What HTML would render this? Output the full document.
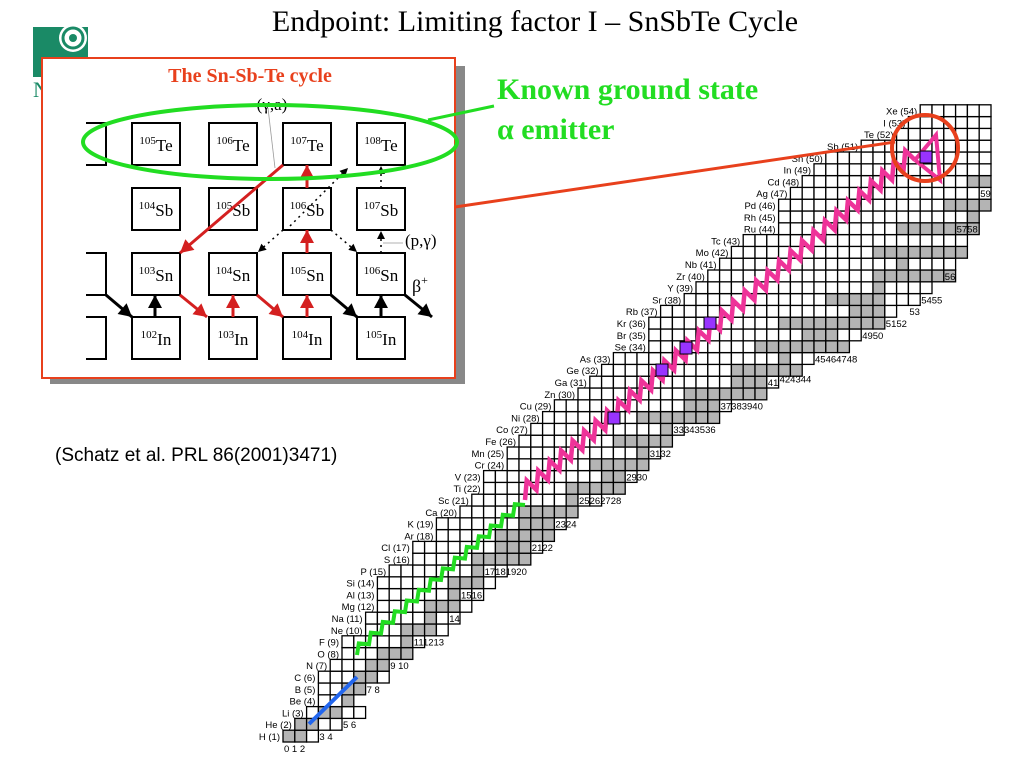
<!DOCTYPE html>
<html><head><meta charset="utf-8">
<style>
html,body{margin:0;padding:0;background:#fff;width:1024px;height:768px;overflow:hidden}
svg{display:block}
</style></head>
<body>
<svg id="s" width="1024" height="768" viewBox="0 0 1024 768" xmlns="http://www.w3.org/2000/svg">
  <g>
    <rect x="33" y="27" width="55" height="50" fill="#1a8a66"/>
    <circle cx="73" cy="38" r="14" fill="#fff"/>
    <circle cx="73" cy="38" r="10" fill="none" stroke="#1a8a66" stroke-width="3"/>
    <circle cx="73" cy="38" r="4" fill="#1a8a66"/>
    <text x="33" y="97" font-family="Liberation Serif, serif" font-size="22" fill="#1a8a66">N</text>
  </g>
  <text x="535" y="31" text-anchor="middle" font-family="Liberation Serif, serif" font-size="30" fill="#000">Endpoint: Limiting factor I – SnSbTe Cycle</text>
  <g id="chart"></g>
  <g>
    <rect x="50" y="66" width="415" height="318" fill="#888"/>
    <rect x="42" y="58" width="413" height="320" fill="#fff" stroke="#e8401c" stroke-width="2"/>
    <text x="250" y="82" text-anchor="middle" font-family="Liberation Serif, serif" font-weight="bold" font-size="20" fill="#e8401c">The Sn-Sb-Te cycle</text>
    <g id="inset" font-family="Liberation Serif, serif"></g>
  </g>
  <ellipse cx="270" cy="142" rx="187" ry="37" fill="none" stroke="#22dd22" stroke-width="4"/>
  <line x1="428" y1="120" x2="494" y2="106" stroke="#22dd22" stroke-width="3"/>
  <line x1="455" y1="207" x2="895" y2="142" stroke="#e8401c" stroke-width="3"/>
  <circle cx="925" cy="148" r="33" fill="none" stroke="#e8401c" stroke-width="4"/>
  <text x="497" y="99" font-family="Liberation Serif, serif" font-weight="bold" font-size="30" fill="#22dd22">Known ground state</text>
  <text x="497" y="139" font-family="Liberation Serif, serif" font-weight="bold" font-size="30" fill="#22dd22">α emitter</text>
  <text x="55" y="461" font-family="Liberation Sans, sans-serif" font-size="19" fill="#000">(Schatz et al. PRL 86(2001)3471)</text>
</svg>
<script>
const NS='http://www.w3.org/2000/svg';
const elements=['H','He','Li','Be','B','C','N','O','F','Ne','Na','Mg','Al','Si','P','S','Cl','Ar','K','Ca','Sc','Ti','V','Cr','Mn','Fe','Co','Ni','Cu','Zn','Ga','Ge','As','Se','Br','Kr','Rb','Sr','Y','Zr','Nb','Mo','Tc','Ru','Rh','Pd','Ag','Cd','In','Sn','Sb','Te','I','Xe'];
const nMin=[0,1,2,3,3,3,4,5,5,7,7,8,8,8,9,11,11,13,13,15,16,17,17,19,19,20,21,22,23,25,26,27,28,31,31,31,32,34,35,36,37,38,39,42,42,42,43,44,45,46,49,52,53,54];
const nMax=[2,4,6,5,6,8,8,10,11,13,14,15,16,17,18,20,21,22,23,24,26,28,29,30,31,32,33,36,37,40,41,43,44,47,48,50,51,53,54,56,56,57,57,58,58,59,59,59,59,59,59,59,59,59];
const stableLo=[0,1,3,5,5,6,7,8,10,10,12,12,14,14,16,16,18,18,20,20,24,24,27,26,30,28,32,30,34,34,38,38,42,40,44,42,48,46,50,50,52,50,99,52,58,56,60,58,64,62,70,68,74,70];
const stableHi=[1,2,4,5,6,7,8,10,10,12,12,14,14,16,16,20,20,22,22,28,24,28,28,30,30,32,32,36,36,40,40,44,42,48,46,50,50,50,50,56,52,58,0,60,58,64,62,66,66,74,72,78,74,82];
const X0=283,CW=11.8,YB=742;
const cx=n=>X0+n*CW, cy=z=>YB-z*CW;
const ch=document.getElementById('chart');
function mk(t,a,p){const e=document.createElementNS(NS,t);for(const k in a)e.setAttribute(k,a[k]);(p||ch).appendChild(e);return e;}
for(let i=0;i<elements.length;i++){
  const z=i+1;
  for(let n=nMin[i];n<=nMax[i];n++){
    const st=n>=stableLo[i]&&n<=stableHi[i];
    const r=mk('rect',{x:cx(n),y:cy(z),width:CW,height:CW,fill:st?'#b4b4b4':'#fff',stroke:'#000','stroke-width':1.3});
    
    
  }
  const t=mk('text',{x:cx(nMin[i])-3,y:cy(z)+CW-2,'text-anchor':'end','font-family':'Liberation Sans, sans-serif','font-size':9.5});
  t.textContent=elements[i]+' ('+z+')';
  
  
}
const magic=[[0,0,'0 1 2'],[3,1,'3 4'],[5,2,'5 6'],[7,5,'7 8'],[9,7,'9 10'],[11,9,'111213'],[14,11,'14'],[15,13,'1516'],[17,15,'17181920'],[21,17,'2122'],[23,19,'2324'],[25,21,'25262728'],[29,23,'2930'],[31,25,'3132'],[33,27,'33343536'],[37,29,'37383940'],[41,31,'41'],[42,31.3,'424344'],[45,33,'45464748'],[49,35,'4950'],[51,36,'5152'],[53,37,'53'],[54,38,'5455'],[56,40,'56'],[57,44,'5758'],[59,47,'59']];
for(const m of magic){
  const t=mk('text',{x:cx(m[0])+1,y:cy(m[1])+CW-2,'font-family':'Liberation Sans, sans-serif','font-size':9.5});
  t.textContent=m[2];
  
  
}
function zig(x1,y1,x2,y2,teeth,amp){
  let pts=[];const dx=(x2-x1)/teeth,dy=(y2-y1)/teeth;
  for(let k=0;k<=teeth;k++){const x=x1+dx*k,y=y1+dy*k;pts.push(x+','+y);if(k<teeth)pts.push((x+dx*0.15)+','+(y+dy*0.15-amp));}
  return pts.join(' ');
}
let p=mk('line',{x1:309,y1:724,x2:357,y2:677,stroke:'#2266ee','stroke-width':4});

p=mk('polyline',{points:zig(357,655,525,505,14,10),fill:'none',stroke:'#22dd22','stroke-width':4});

p=mk('polyline',{points:zig(525,500,915,160,34,18),fill:'none',stroke:'#ee3399','stroke-width':4.5});

p=mk('polyline',{points:'915,160 936,135 940,180 915,160',fill:'none',stroke:'#ee3399','stroke-width':4});

for(const q of [[614,418],[662,370],[686,348],[710,323],[926,157]]){
  const r=mk('rect',{x:q[0]-6,y:q[1]-6,width:12,height:12,fill:'#9933ff',stroke:'#000','stroke-width':1});
  
}
const ins=document.getElementById('inset');
const colX=[132,209,283,357],rowY=[123,188,253,317];
const rowEl=['Te','Sb','Sn','In'],rowA0=[105,104,103,102];
for(let r=0;r<4;r++)for(let c=0;c<4;c++){
  const g=mk('g',{},ins);
  
  mk('rect',{x:colX[c],y:rowY[r],width:48,height:42,fill:'#fff',stroke:'#000','stroke-width':2},g);
  const t=mk('text',{x:colX[c]+24,y:rowY[r]+28,'text-anchor':'middle','font-size':17},g);
  t.innerHTML='<tspan font-size="11" dy="-7">'+(rowA0[r]+c)+'</tspan><tspan dy="7">'+rowEl[r]+'</tspan>';
}
for(const y of [123,253,317]){mk('path',{d:`M86 ${y} H106 V${y+42} H86`,fill:'none',stroke:'#000','stroke-width':2},ins);}
function arr(x1,y1,x2,y2,col,dash){
  const a=mk('line',{x1,y1,x2,y2,stroke:col,'stroke-width':dash?1.5:3,'stroke-dasharray':dash?'2,4':'none'},ins);
  
  const ang=Math.atan2(y2-y1,x2-x1),L=dash?8:13,W=dash?4:7;
  const bx=x2-L*Math.cos(ang),by=y2-L*Math.sin(ang);
  mk('polygon',{points:`${x2},${y2} ${bx+W*Math.sin(ang)},${by-W*Math.cos(ang)} ${bx-W*Math.sin(ang)},${by+W*Math.cos(ang)}`,fill:col},ins);
}
const R='#d42020',K='#000';
arr(283,165,180,253,R);
arr(307,188,307,165,R);arr(307,253,307,230,R);arr(307,317,307,295,R);arr(233,317,233,295,R);
arr(180,295,207,317,R);arr(257,295,283,317,R);
arr(155,317,155,295,K);arr(381,317,381,295,K);
arr(106,295,132,317,K);arr(331,295,357,317,K);arr(405,295,432,317,K);
arr(283,230,258,252,K,1);arr(331,230,357,252,K,1);arr(381,253,381,231,K,1);arr(381,188,381,166,K,1);arr(290,226,348,168,K,1);
mk('line',{x1:268,y1:108,x2:275,y2:168,stroke:'#999','stroke-width':0.8},ins);
mk('line',{x1:383,y1:243,x2:403,y2:243,stroke:'#999','stroke-width':0.8},ins);
let t=mk('text',{x:272,y:110,'text-anchor':'middle','font-size':17},ins);t.textContent='(γ,a)';

t=mk('text',{x:405,y:246,'font-size':17},ins);t.textContent='(p,γ)';

t=mk('text',{x:412,y:292,'font-size':18},ins);t.innerHTML='β<tspan font-size="12" dy="-8">+</tspan>';

</script>
</body></html>
